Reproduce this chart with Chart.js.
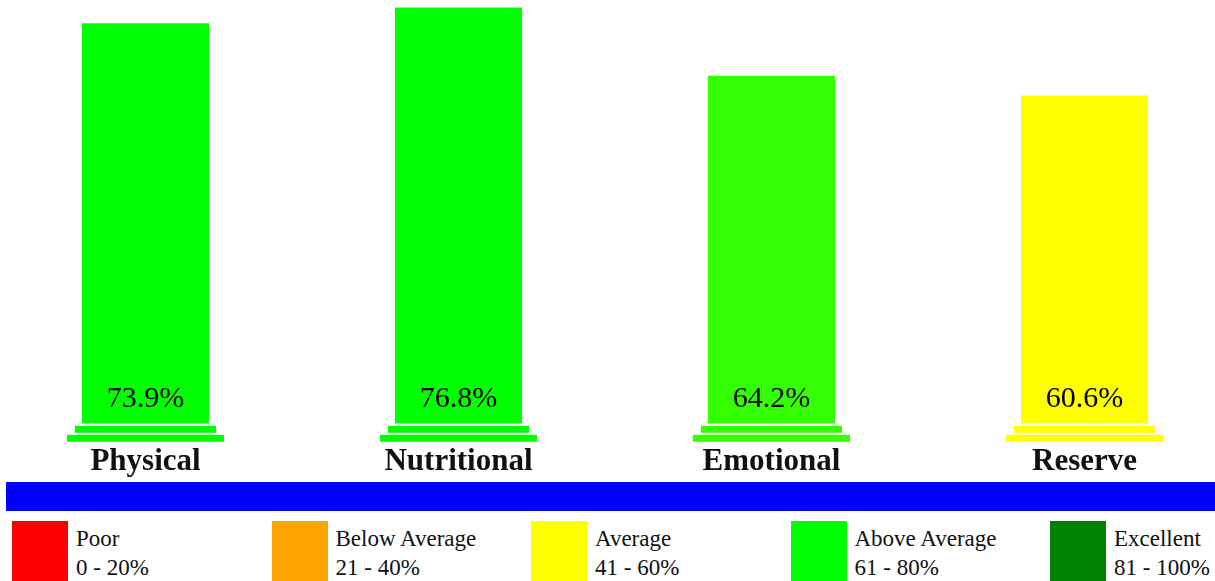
<!DOCTYPE html>
<html>
<head>
<meta charset="utf-8">
<script src="https://cdn.jsdelivr.net/npm/chart.js@4"></script>
<style>
  body { margin: 0; width: 1215px; height: 581px; overflow: hidden; background: #fff; position: relative; font-family: "Liberation Serif", serif; }
  #wrap { position: absolute; left: -11px; top: 0; width: 1252px; height: 493px; }
  #band { position: absolute; left: 6px; top: 482px; width: 1209px; height: 29px; background: #0000ff; }
  .key { position: absolute; top: 521px; }
  .key .sw { position: absolute; left: 0; top: 0; width: 56px; height: 62px; }
  .key .tx { position: absolute; left: 64px; top: 3px; font-size: 23px; line-height: 29px; color: #111; white-space: nowrap; }
</style>
</head>
<body>
<div id="wrap"><canvas id="scoreChart"></canvas></div>
<div id="band"></div>
<div id="legend"></div>
<script>
var categories = ["Physical", "Nutritional", "Emotional", "Reserve"];
var scores = [73.9, 76.8, 64.2, 60.6];
var barColors = ["#00ff00", "#00ff00", "#33ff00", "#ffff00"];

var legendLabels = ["Poor", "Below Average", "Average", "Above Average", "Excellent"];
var legendRanges = ["0 - 20%", "21 - 40%", "41 - 60%", "61 - 80%", "81 - 100%"];
var legendColors = ["#ff0000", "#ffa500", "#ffff00", "#00ff00", "#008000"];

// legend boxes under the blue band
var legend = document.getElementById("legend");
legendLabels.forEach(function (lab, i) {
  var d = document.createElement("div");
  d.className = "key";
  d.style.left = (12 + i * 259.5) + "px";
  d.innerHTML = '<div class="sw" style="background:' + legendColors[i] + '"></div>' +
    '<div class="tx">' + lab + "<br>" + legendRanges[i] + "</div>";
  legend.appendChild(d);
});

// pedestal under each bar + value text inside the bar
var pedestalPlugin = {
  id: "pedestal",
  afterDatasetsDraw: function (chart) {
    var ctx = chart.ctx;
    var meta = chart.getDatasetMeta(0);
    ctx.save();
    meta.data.forEach(function (bar, i) {
      var half = bar.width / 2;
      ctx.fillStyle = barColors[i];
      ctx.fillRect(bar.x - half - 7, bar.base + 2, bar.width + 14, 7);
      ctx.fillRect(bar.x - half - 15, bar.base + 11, bar.width + 30, 7);
      ctx.fillStyle = "#000";
      ctx.font = '30px "Liberation Serif", serif';
      ctx.textAlign = "center";
      ctx.textBaseline = "middle";
      ctx.fillText(scores[i].toFixed(1) + "%", bar.x, bar.base - 25);
    });
    ctx.restore();
  }
};

var ctx = document.getElementById("scoreChart").getContext("2d");
new Chart(ctx, {
  type: "bar",
  data: {
    labels: categories,
    datasets: [
      {
        label: "Score",
        data: scores,
        backgroundColor: barColors,
        borderWidth: 0,
        categoryPercentage: 1,
        barPercentage: 0.406,
      },
    ],
  },
  options: {
    responsive: true,
    maintainAspectRatio: false,
    animation: false,
    layout: { padding: 0 },
    plugins: {
      legend: { display: false },
      tooltip: { enabled: false },
    },
    scales: {
      x: {
        grid: { display: false },
        border: { display: false },
        ticks: {
          color: "#111",
          padding: 12,
          font: { family: '"Liberation Serif", serif', size: 31, weight: "bold" },
        },
      },
      y: {
        display: false,
        min: 0,
        max: 78.2,
      },
    },
  },
  plugins: [pedestalPlugin],
});
</script>
</body>
</html>
